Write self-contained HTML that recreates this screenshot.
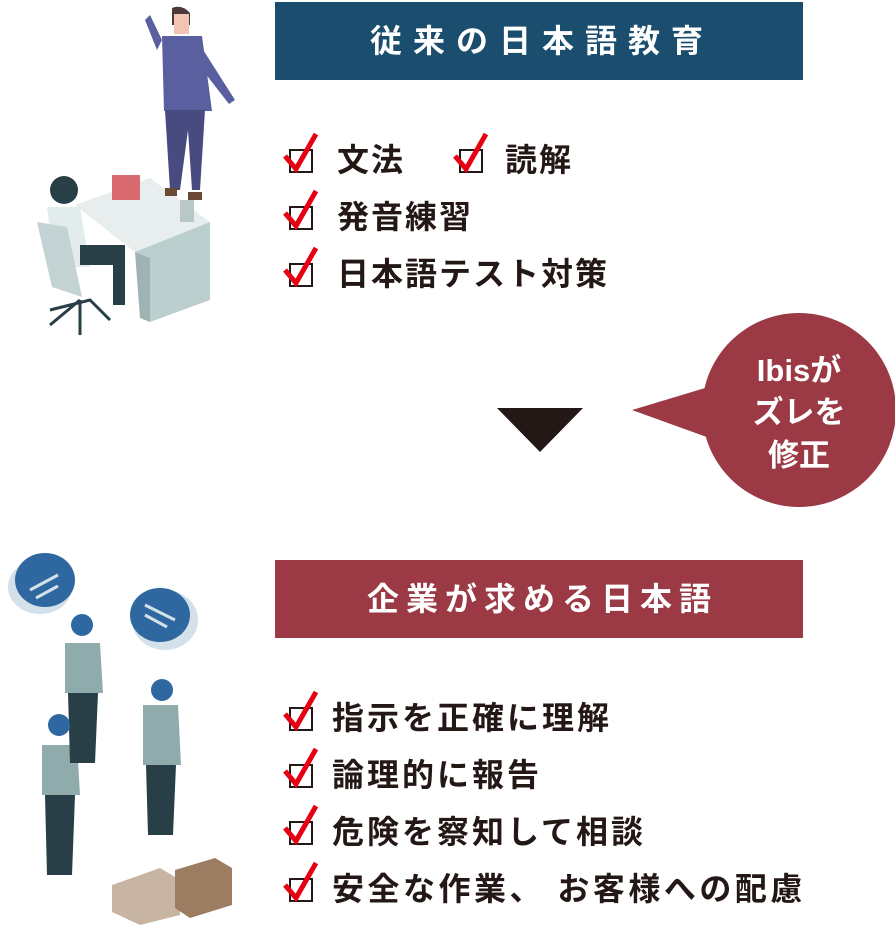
<!DOCTYPE html>
<html><head><meta charset="utf-8"><style>
body{margin:0;width:895px;height:927px;background:#fff;position:relative;overflow:hidden;font-family:"Liberation Sans","Noto Sans CJK JP",sans-serif;font-weight:bold;}
.t{position:absolute;white-space:nowrap;line-height:1;}
.h{color:#fff;font-size:32px;}
.l{color:#231815;font-size:32px;letter-spacing:2px;}
.w{color:#fff;font-size:31px;text-align:center;width:140px;}
</style></head><body>
<svg width="895" height="927" style="position:absolute;left:0;top:0">
<defs>
<g id="ck"><rect x="0" y="0" width="22" height="22" fill="none" stroke="#231815" stroke-width="2"/><path d="M-5 6 L6 19 L26 -16" fill="none" stroke="#e60012" stroke-width="5"/></g>
</defs>
<rect x="275" y="2" width="528" height="78" fill="#1b4d6e"/>
<rect x="275" y="560" width="528" height="78" fill="#9b3a45"/>
<use href="#ck" x="290" y="150"/><use href="#ck" x="460" y="150"/>
<use href="#ck" x="290" y="207"/><use href="#ck" x="290" y="264"/>
<use href="#ck" x="290" y="708"/><use href="#ck" x="290" y="765"/>
<use href="#ck" x="290" y="822"/><use href="#ck" x="290" y="879"/>
<polygon points="497,408 583,408 540,452" fill="#231815"/>
<circle cx="799" cy="410" r="97" fill="#9b3a45"/>
<polygon points="632,410 715,385 715,440" fill="#9b3a45"/>
<!-- top illustration -->
<polygon points="75,205 150,178 210,222 135,252" fill="#e8eeee"/>
<polygon points="135,252 210,222 210,300 150,322 150,258" fill="#bccfcf"/>
<polygon points="135,252 150,258 150,322 140,318" fill="#9fb3b3"/>
<rect x="112" y="175" width="28" height="25" fill="#d96b70"/>
<rect x="180" y="200" width="14" height="22" fill="#b8c8c8"/>
<path d="M172 8 q10 -4 18 5 v12 h-18z" fill="#4a3a3a"/>
<rect x="174" y="14" width="15" height="20" fill="#f2c4b4"/>
<path d="M162 36 h40 l10 75 h-48z" fill="#5a5fa0"/>
<path d="M165 110 h40 l-5 80 h-8 l-4 -60 l-8 60 h-10z" fill="#474b80"/>
<path d="M162 40 l-12 -25 l-5 5 l12 30z" fill="#5a5fa0"/>
<path d="M200 45 l35 55 l-6 4 l-35 -45z" fill="#5a5fa0"/>
<rect x="165" y="188" width="12" height="8" fill="#6b4a35"/><rect x="188" y="192" width="14" height="8" fill="#6b4a35"/>
<circle cx="64" cy="190" r="14" fill="#283f48"/>
<path d="M47 207 h33 l10 60 h-36z" fill="#e3ecec"/>
<path d="M37 222 l15 65 l30 10 l-15 -70z" fill="#c3d2d2"/>
<path d="M80 245 h45 v60 h-12 v-40 h-33z" fill="#283f48"/>
<path d="M50 310 l40 -10 l20 20 M80 300 v35 M80 300 l-30 25" stroke="#283f48" stroke-width="3" fill="none"/>
<!-- bottom illustration -->
<ellipse cx="40" cy="587" rx="32" ry="27" fill="#d4e0ea"/>
<ellipse cx="45" cy="580" rx="30" ry="27" fill="#2f68a0"/>
<ellipse cx="165" cy="620" rx="33" ry="30" fill="#d4e0ea"/>
<ellipse cx="160" cy="615" rx="30" ry="27" fill="#2f68a0"/>
<path d="M30 590 l28 -15 M36 598 l22 -12 M145 605 l30 15 M145 615 l22 12" stroke="#d4e0ea" stroke-width="3"/>
<g fill="#8fabab"><path d="M65 643 h35 l3 50 h-38z"/><path d="M42 745 h35 l3 50 h-38z"/><path d="M143 705 h35 l3 60 h-38z"/></g>
<g fill="#283f48"><path d="M68 693 h30 l-3 70 h-25z"/><path d="M45 795 h30 l-3 80 h-25z"/><path d="M146 765 h30 l-3 70 h-25z"/></g>
<g fill="#2f68a0"><circle cx="82" cy="625" r="11"/><circle cx="59" cy="725" r="11"/><circle cx="162" cy="690" r="11"/></g>
<polygon points="112,885 160,868 180,880 180,915 140,925 112,912" fill="#c8b4a2"/>
<polygon points="175,870 215,858 232,868 232,905 190,918 175,908" fill="#9c7d62"/>
</svg>
<div class="t h" style="left:370px;top:25px;letter-spacing:11px">従来の日本語教育</div>
<div class="t h" style="left:367px;top:583px;letter-spacing:7px">企業が求める日本語</div>
<div class="t l" style="left:337px;top:144px">文法</div>
<div class="t l" style="left:505px;top:144px">読解</div>
<div class="t l" style="left:337px;top:201px">発音練習</div>
<div class="t l" style="left:337px;top:258px">日本語テスト対策</div>
<div class="t l" style="left:332px;top:702px;letter-spacing:3px">指示を正確に理解</div>
<div class="t l" style="left:332px;top:759px;letter-spacing:3px">論理的に報告</div>
<div class="t l" style="left:332px;top:816px;letter-spacing:3px">危険を察知して相談</div>
<div class="t l" style="left:332px;top:873px;letter-spacing:3.5px">安全な作業、 お客様への配慮</div>
<div class="t w" style="left:729px;top:355px">Ibisが</div>
<div class="t w" style="left:729px;top:397px">ズレを</div>
<div class="t w" style="left:729px;top:440px">修正</div>
</body></html>
